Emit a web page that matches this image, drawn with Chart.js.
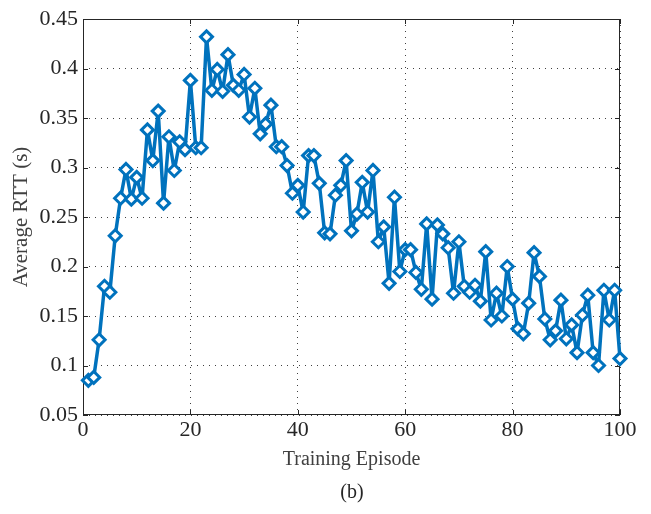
<!DOCTYPE html>
<html>
<head>
<meta charset="utf-8">
<script src="https://cdn.jsdelivr.net/npm/chart.js@4/dist/chart.umd.min.js"></script>
<style>
  html, body { margin: 0; padding: 0; background: #fff; }
  #chart { display: block; }
</style>
</head>
<body>
<canvas id="chart" width="651" height="514"></canvas>
<script>
// data
const episodes = [
  1, 2, 3, 4, 5, 6, 7, 8, 9, 10, 11, 12, 13, 14, 15, 16, 17, 18, 19, 20,
  21, 22, 23, 24, 25, 26, 27, 28, 29, 30, 31, 32, 33, 34, 35, 36, 37, 38, 39, 40,
  41, 42, 43, 44, 45, 46, 47, 48, 49, 50, 51, 52, 53, 54, 55, 56, 57, 58, 59, 60,
  61, 62, 63, 64, 65, 66, 67, 68, 69, 70, 71, 72, 73, 74, 75, 76, 77, 78, 79, 80,
  81, 82, 83, 84, 85, 86, 87, 88, 89, 90, 91, 92, 93, 94, 95, 96, 97, 98, 99, 100
];
const avgRtt = [
  0.085, 0.088, 0.126, 0.180, 0.174, 0.231, 0.269, 0.298, 0.268, 0.290,
  0.269, 0.338, 0.307, 0.357, 0.264, 0.331, 0.297, 0.326, 0.318, 0.388,
  0.320, 0.320, 0.432, 0.378, 0.399, 0.377, 0.414, 0.383, 0.378, 0.394,
  0.351, 0.380, 0.334, 0.344, 0.363, 0.321, 0.321, 0.302, 0.274, 0.282,
  0.255, 0.312, 0.312, 0.284, 0.234, 0.233, 0.272, 0.282, 0.307, 0.236,
  0.253, 0.285, 0.255, 0.297, 0.225, 0.240, 0.183, 0.270, 0.195, 0.217,
  0.217, 0.194, 0.177, 0.243, 0.167, 0.242, 0.233, 0.219, 0.173, 0.225,
  0.180, 0.174, 0.181, 0.165, 0.215, 0.146, 0.173, 0.150, 0.200, 0.167,
  0.137, 0.132, 0.163, 0.214, 0.190, 0.147, 0.126, 0.135, 0.166, 0.127,
  0.141, 0.113, 0.151, 0.171, 0.113, 0.100, 0.176, 0.146, 0.176, 0.107
];
const xTicks = [0, 20, 40, 60, 80, 100];
const yTicks = [0.05, 0.1, 0.15, 0.2, 0.25, 0.3, 0.35, 0.4, 0.45];
const yTickLabels = ['0.05', '0.1', '0.15', '0.2', '0.25', '0.3', '0.35', '0.4', '0.45'];

const axisColor = '#262626';
const tickFont = { family: "'Liberation Serif', 'DejaVu Serif', serif", size: 22 };
const titleFont = { family: "'Liberation Serif', 'DejaVu Serif', serif", size: 20 };

// box around the plot with inward tick marks, plus the "(b)" caption
const boxPlugin = {
  id: 'box',
  beforeDatasetsDraw(chart) {
    const { ctx, chartArea: a, scales } = chart;
    ctx.save();
    ctx.strokeStyle = axisColor;
    ctx.lineWidth = 1;
    ctx.strokeRect(a.left + 0.5, a.top + 0.5, a.right - a.left - 1, a.bottom - a.top - 1);
    ctx.beginPath();
    xTicks.forEach(v => {
      const x = Math.round(scales.x.getPixelForValue(v)) + 0.5;
      ctx.moveTo(x, a.bottom); ctx.lineTo(x, a.bottom - 5);
      ctx.moveTo(x, a.top); ctx.lineTo(x, a.top + 5);
    });
    yTicks.forEach(v => {
      const y = Math.round(scales.y.getPixelForValue(v)) + 0.5;
      ctx.moveTo(a.left, y); ctx.lineTo(a.left + 5, y);
      ctx.moveTo(a.right, y); ctx.lineTo(a.right - 5, y);
    });
    ctx.stroke();
    ctx.restore();
  },
  afterDraw(chart) {
    const { ctx } = chart;
    ctx.save();
    ctx.fillStyle = axisColor;
    ctx.font = "20px 'Liberation Serif', serif";
    ctx.textAlign = 'center';
    ctx.textBaseline = 'middle';
    ctx.fillText('(b)', 352, 493);
    ctx.restore();
  }
};

new Chart(document.getElementById('chart'), {
  type: 'line',
  data: {
    datasets: [{
      label: 'Average RTT',
      data: episodes.map((e, i) => ({ x: e, y: avgRtt[i] })),
      borderColor: '#0072BD',
      borderWidth: 3.5,
      borderJoinStyle: 'round',
      pointStyle: 'rectRot',
      pointRadius: 6,
      pointBorderWidth: 3,
      pointBorderColor: '#0072BD',
      pointBackgroundColor: '#ffffff',
      tension: 0,
      clip: false
    }]
  },
  options: {
    responsive: false,
    animation: false,
    devicePixelRatio: 1,
    layout: { padding: { left: 0, right: 31, top: 19, bottom: 0 } },
    plugins: {
      legend: { display: false },
      tooltip: { enabled: false }
    },
    scales: {
      x: {
        type: 'linear',
        min: 0,
        max: 100,
        afterBuildTicks: s => { s.ticks = xTicks.map(v => ({ value: v })); },
        afterFit: s => { s.height = 99; },
        ticks: { color: axisColor, font: tickFont, padding: 2, maxRotation: 0 },
        grid: { color: 'rgba(0,0,0,0.75)', lineWidth: 1, drawTicks: false },
        border: { display: false, dash: [1, 5] },
        title: {
          display: true,
          text: 'Training Episode',
          color: '#404040',
          font: titleFont,
          padding: { top: 0, bottom: 42 }
        }
      },
      y: {
        min: 0.05,
        max: 0.45,
        afterBuildTicks: s => { s.ticks = yTicks.map(v => ({ value: v })); },
        afterFit: s => { s.width = 83; },
        ticks: {
          color: axisColor,
          font: tickFont,
          padding: 5,
          callback: (v) => yTickLabels[yTicks.findIndex(t => Math.abs(t - v) < 1e-9)]
        },
        grid: { color: 'rgba(0,0,0,0.75)', lineWidth: 1, drawTicks: false },
        border: { display: false, dash: [1, 5] },
        title: {
          display: true,
          text: 'Average RTT (s)',
          color: '#404040',
          font: { family: "'Liberation Serif', 'DejaVu Serif', serif", size: 21 },
          padding: { top: 9, bottom: 0 }
        }
      }
    }
  },
  plugins: [boxPlugin]
});
</script>
</body>
</html>
